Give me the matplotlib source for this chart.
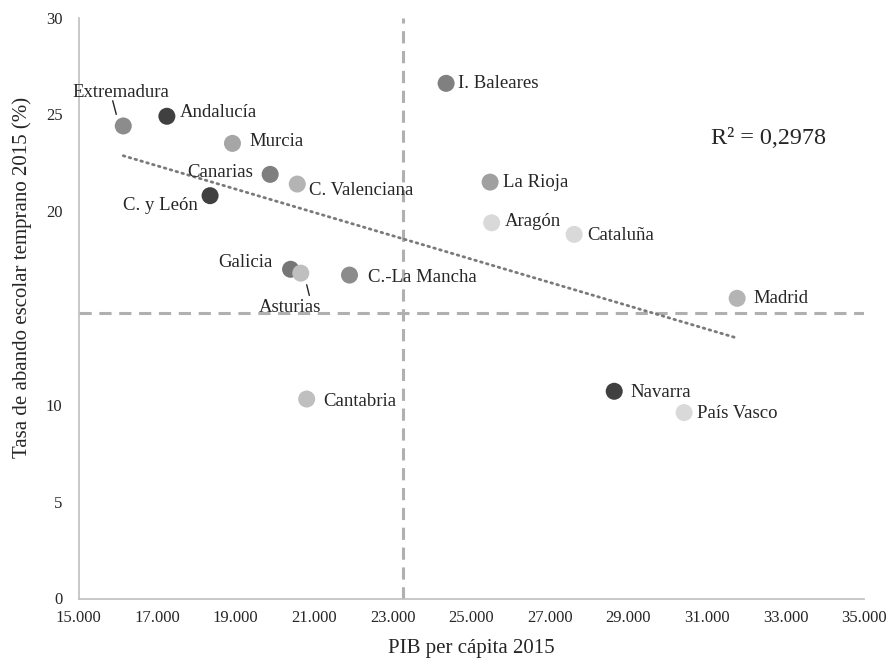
import matplotlib
matplotlib.use("Agg")
import matplotlib.pyplot as plt
import numpy as np

plt.rcParams['font.family'] = ['Liberation Serif', 'DejaVu Serif']

regions = ["Extremadura", "Andalucía", "Murcia", "Canarias", "C. Valenciana", "C. y León",
           "I. Baleares", "La Rioja", "Aragón", "Cataluña", "Galicia", "Asturias",
           "C.-La Mancha", "Madrid", "Navarra", "País Vasco", "Cantabria"]
pib = [16140, 17250, 18920, 19880, 20570, 18350, 24360, 25480, 25520, 27620, 20400, 20660,
       21900, 31770, 28640, 30420, 20810]
abandono = [24.4, 24.9, 23.5, 21.9, 21.4, 20.8, 26.6, 21.5, 19.4, 18.8, 17.0, 16.8,
            16.7, 15.5, 10.7, 9.6, 10.3]
colors = ["#8c8c8c", "#404040", "#a6a6a6", "#7f7f7f", "#b4b4b4", "#404040",
          "#808080", "#a0a0a0", "#d9d9d9", "#d9d9d9", "#767676", "#bfbfbf",
          "#8c8c8c", "#b4b4b4", "#404040", "#d9d9d9", "#bfbfbf"]
mean_x = 23270
mean_y = 14.75
r2_text = "R² = 0,2978"
x_ticks = [15000, 17000, 19000, 21000, 23000, 25000, 27000, 29000, 31000, 33000, 35000]
x_ticklabels = ["15.000", "17.000", "19.000", "21.000", "23.000", "25.000", "27.000",
                "29.000", "31.000", "33.000", "35.000"]
y_ticks = [0, 5, 10, 20, 25, 30]

fig = plt.figure(figsize=(8.9, 6.65), dpi=100)
ax = fig.add_axes([78.5 / 890, 1 - 598.5 / 665, 785.5 / 890, 581 / 665])
ax.set_xlim(15000, 35000)
ax.set_ylim(0, 30)

ax.axvline(mean_x, color="#b0b0b0", lw=2.2, ls=(0, (4, 2.5)), zorder=1)
ax.axhline(mean_y, color="#b0b0b0", lw=2.2, ls=(0, (4, 2.5)), zorder=1)

x = np.array(pib, dtype=float)
y = np.array(abandono)
m, b = np.polyfit(x, y, 1)
xs = np.array([x.min(), x.max()])
ax.plot(xs, m * xs + b, color="#7a7a7a", lw=2, ls=(0, (0.6, 1.6)), dash_capstyle="round", zorder=2)

ax.scatter(x, y, s=150, c=colors, edgecolors="none", zorder=3)

# label offsets in points: (dx, dy, ha)
offsets = {
    "Extremadura": (-1.5, 24, "center"),
    "Andalucía": (9.5, 3, "left"),
    "Murcia": (12, 1.5, "left"),
    "Canarias": (-12, 1.5, "right"),
    "C. Valenciana": (8.6, -4.3, "left"),
    "C. y León": (-8.6, -7, "right"),
    "I. Baleares": (8.6, 0, "left"),
    "La Rioja": (9.4, 0, "left"),
    "Aragón": (9.4, 0.7, "left"),
    "Cataluña": (9.4, -0.5, "left"),
    "Galicia": (-13, 5, "right"),
    "Asturias": (-8, -25, "center"),
    "C.-La Mancha": (13, -1.5, "left"),
    "Madrid": (11.5, 0, "left"),
    "Navarra": (11.5, -1, "left"),
    "País Vasco": (9.4, -0.5, "left"),
    "Cantabria": (11.7, -2, "left"),
}
for name, xi, yi in zip(regions, x, y):
    dx, dy, ha = offsets[name]
    ax.annotate(name, (xi, yi), xytext=(dx, dy), textcoords="offset points",
                ha=ha, va="center", fontsize=13.5, color="#262626", zorder=4)

# leader lines
ax.annotate("", xy=(15980, 24.86), xytext=(15853, 25.84),
            arrowprops=dict(arrowstyle="-", color="#262626", lw=1))
ax.annotate("", xy=(20793, 16.34), xytext=(20894, 15.51),
            arrowprops=dict(arrowstyle="-", color="#262626", lw=1))

ax.text(32580, 23.77, r2_text, fontsize=17.4, color="#262626", ha="center", va="center")

ax.set_xticks(x_ticks)
ax.set_xticklabels(x_ticklabels)
ax.set_yticks(y_ticks)
ax.tick_params(axis="both", length=0, labelsize=12, colors="#262626")
ax.tick_params(axis="x", pad=8)
ax.tick_params(axis="y", pad=11.5)
for s in ["top", "right"]:
    ax.spines[s].set_visible(False)
for s in ["left", "bottom"]:
    ax.spines[s].set_color("#bfbfbf")
    ax.spines[s].set_linewidth(1.2)

ax.set_xlabel("PIB per cápita 2015", fontsize=15, color="#262626", va="center")
ax.xaxis.set_label_coords(0.5, -0.086)
ax.set_ylabel("Tasa de abando escolar temprano 2015 (%)", fontsize=15, color="#262626", va="center")
ax.yaxis.set_label_coords(-0.072, 0.552)

fig.savefig("out.png", dpi=100)
